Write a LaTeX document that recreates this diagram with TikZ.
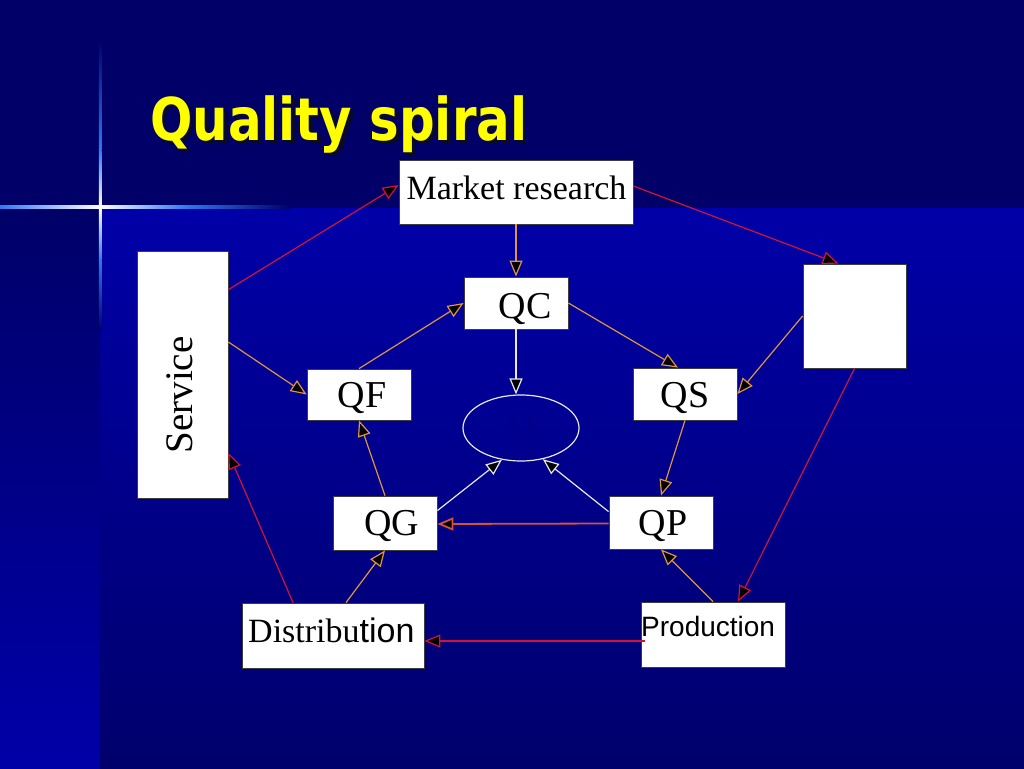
\documentclass[tikz,border=0pt]{standalone}
\usepackage{fontspec}
\setmainfont{Liberation Serif}
\newfontfamily\sansf{Liberation Sans}
\newfontfamily\titlef{DejaVu Sans}
\usetikzlibrary{arrows.meta,shapes.geometric}
\definecolor{bgtop}{RGB}{0,0,104}
\definecolor{bgmain}{RGB}{0,0,168}
\definecolor{bgdark}{RGB}{0,0,108}
\definecolor{redline}{RGB}{210,20,50}
\definecolor{orangeline}{RGB}{222,150,60}
\definecolor{whiteline}{RGB}{232,232,232}
\definecolor{coralline}{RGB}{215,80,60}
\definecolor{glint}{RGB}{50,120,240}
\definecolor{qdark}{RGB}{0,0,138}
\definecolor{boxedge}{RGB}{60,60,60}
\definecolor{titleyellow}{RGB}{255,255,0}
\definecolor{titleshadow}{RGB}{10,10,40}
\tikzset{
  box/.style={draw=boxedge, line width=0.8pt, fill=white, inner sep=0pt, rectangle},
  conn/.style={line width=1.2pt, -{Triangle[length=16pt,width=13pt,fill=black]}},
  redc/.style={conn, draw=redline},
  orc/.style={conn, draw=orangeline},
  whc/.style={conn, draw=whiteline},
  corc/.style={conn, draw=coralline, line width=1.8pt},
  qtext/.style={anchor=base, inner sep=0pt, font=\fontsize{38}{40}\selectfont},
}
\begin{document}
\begin{tikzpicture}[x=1pt,y=-1pt]
\useasboundingbox (0,0) rectangle (1024,768);
% background
\fill[bgtop] (0,0) rectangle (1024,768);
\shade[top color=bgmain, bottom color=bgdark] (100,208) rectangle (1024,768);
\shade[top color=bgtop, bottom color=bgmain] (0,208) rectangle (100,768);
% glint
\shade[left color=glint, right color=white] (0,205.8) rectangle (100,208.4);
\shade[left color=white, right color=glint] (100,205.8) rectangle (185,208.4);
\shade[left color=glint, right color=bgtop] (185,205.8) rectangle (290,208.4);
\shade[top color=bgtop, bottom color=glint] (98.9,40) rectangle (101.3,150);
\shade[top color=glint, bottom color=white] (98.9,150) rectangle (101.3,207);
\shade[top color=white, bottom color=glint] (98.9,207) rectangle (101.3,260);
\shade[top color=glint, bottom color=bgtop] (98.9,260) rectangle (101.3,330);
% title with its shadow
\node[anchor=base west, inner sep=0pt, text=titleshadow] (titleshadow) at (153.5,143.5)
  {\scalebox{0.845}[1]{\titlef\bfseries\fontsize{59}{60}\selectfont Quality spiral}};
\node[anchor=base west, inner sep=0pt, text=titleyellow] (title) at (150,140)
  {\scalebox{0.845}[1]{\titlef\bfseries\fontsize{59}{60}\selectfont Quality spiral}};
% boxes
\node[box, minimum width=234pt, minimum height=64pt] (mr) at (516,192) {};
\node[box, minimum width=104pt, minimum height=52pt] (qc) at (516,303) {};
\node[box, minimum width=104pt, minimum height=51pt] (qf) at (359,394.5) {};
\node[box, minimum width=104pt, minimum height=52pt] (qs) at (685,394) {};
\node[box, minimum width=104pt, minimum height=54pt] (qg) at (385,523) {};
\node[box, minimum width=104pt, minimum height=53pt] (qp) at (661,522.5) {};
\node[box, minimum width=91pt, minimum height=247pt] (svc) at (182.5,374.5) {};
\node[box, minimum width=103pt, minimum height=104pt] (rb) at (854.5,316) {};
\node[box, minimum width=182pt, minimum height=65pt] (dist) at (333,635.5) {};
\node[box, minimum width=144pt, minimum height=65pt] (prod) at (713,634.5) {};
\node[ellipse, draw=whiteline, line width=1.2pt, minimum width=116pt, minimum height=66pt,
  inner sep=0pt, text=qdark, font=\fontsize{35}{36}\selectfont] (ell) at (521,428) {Q};
% texts
\node[anchor=base, inner sep=0pt, font=\fontsize{34}{36}\selectfont] (tmr) at (516.5,199) {Market research};
\node[qtext] (tqc) at (525,318) {QC};
\node[qtext] (tqf) at (362,407) {QF};
\node[qtext] (tqs) at (685,407) {QS};
\node[qtext] (tqg) at (392,535) {QG};
\node[qtext] (tqp) at (663,535) {QP};
\node[anchor=base, rotate=90, inner sep=0pt, font=\fontsize{39}{40}\selectfont] (tsvc) at (192,395) {Service};
\node[anchor=base west, inner sep=0pt, font=\fontsize{34}{36}\selectfont] (tdist) at (248,642) {Distribu{\sansf tion}};
\node[anchor=base west, inner sep=0pt, font=\sansf\fontsize{28}{30}\selectfont] (tprod) at (641,636) {Production};
% red connectors
\draw[redc] ([yshift=-39pt]svc.north east) -- ([yshift=7pt]mr.west);
\draw[redc] ([yshift=6pt]mr.east) -- ([xshift=-16pt]rb.north);
\draw[redc] (rb.south) -- ([xshift=25pt]prod.north);
\draw[redc] ([xshift=4pt,yshift=-6.5pt]prod.west) -- ([yshift=-5.5pt]dist.east);
\draw[redc] ([xshift=-40pt]dist.north) -- ([yshift=-78.5pt]svc.east);
\draw[corc] ([yshift=-1pt]qp.west) -- ([yshift=-1pt]qg.east);
% orange connectors
\draw[orc] (mr.south) -- (qc.north);
\draw[orc] (qc.east) -- ([xshift=-7pt]qs.north);
\draw[orc] (rb.west) -- (qs.east);
\draw[orc] (qs.south) -- (qp.north);
\draw[orc] (prod.north) -- (qp.south);
\draw[orc] ([xshift=13pt]dist.north) -- (qg.south);
\draw[orc] (qg.north) -- (qf.south);
\draw[orc] (qf.north) -- (qc.west);
\draw[orc] ([yshift=32.5pt]svc.east) -- (qf.west);
% white connectors
\draw[whc] (qc.south) -- (qc.south |- ell.north);
\draw[whc] ([yshift=-15pt]qg.north east) -- (ell.239);
\draw[whc] ([yshift=-16pt]qp.north west) -- (ell.305);
\end{tikzpicture}
\end{document}
